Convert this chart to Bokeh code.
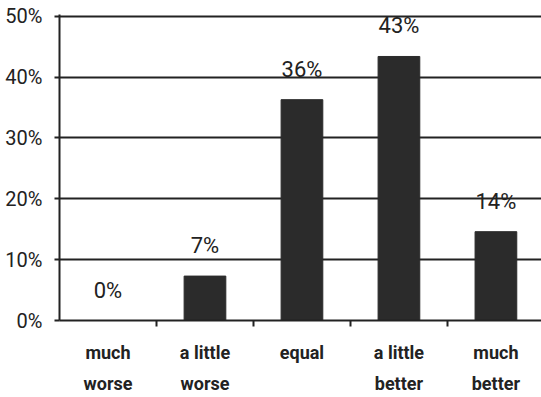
from bokeh.plotting import figure
from bokeh.models import Range1d, FixedTicker, ColumnDataSource
from bokeh.core.properties import value
from bokeh.embed import file_html
from bokeh.resources import INLINE

categories = ["much\nworse", "a little\nworse", "equal", "a little\nbetter", "much\nbetter"]
values = [0.0, 7.3, 36.3, 43.4, 14.6]
value_labels = ["0%", "7%", "36%", "43%", "14%"]
y_ticks = [0, 10, 20, 30, 40, 50]
y_tick_labels = ["0%", "10%", "20%", "30%", "40%", "50%"]

xs = [i + 0.5 for i in range(len(categories))]
src = ColumnDataSource(dict(x=xs, top=values, lab=value_labels))

FONT = "Roboto"

p = figure(width=541, height=397, output_backend="svg", toolbar_location=None,
           x_range=Range1d(0, 4.97), y_range=Range1d(0, 50.3),
           min_border_left=59, min_border_right=0, min_border_top=14, min_border_bottom=70)
p.outline_line_color = None
p.background_fill_color = "white"
p.border_fill_color = "white"

p.vbar(x="x", top="top", width=0.43, bottom=0, source=src,
       fill_color="#2b2b2b", line_color="#2b2b2b")

p.text(x="x", y="top", text="lab", source=src, text_align="center",
       text_baseline="bottom", y_offset=-18, text_font=value(FONT),
       text_font_size="22px", text_color="#222222")

# axes
p.xgrid.grid_line_color = None
p.ygrid.ticker = FixedTicker(ticks=y_ticks)
p.ygrid.grid_line_color = "#222222"
p.ygrid.grid_line_width = 2

p.yaxis.ticker = FixedTicker(ticks=y_ticks)
p.yaxis.major_label_overrides = {t: l for t, l in zip(y_ticks, y_tick_labels)}
p.yaxis.axis_line_width = 2
p.yaxis.axis_line_color = "#222222"
p.yaxis.major_tick_line_width = 2
p.yaxis.major_tick_line_color = "#222222"
p.yaxis.major_tick_out = 5
p.yaxis.major_tick_in = 0
p.yaxis.minor_tick_line_color = None
p.yaxis.major_label_text_font = FONT
p.yaxis.major_label_text_font_size = "20px"
p.yaxis.major_label_text_color = "#222222"
p.yaxis.major_label_standoff = 12

p.xaxis.ticker = FixedTicker(ticks=xs, minor_ticks=[1, 2, 3, 4])
p.xaxis.major_label_overrides = {x: c for x, c in zip(xs, categories)}
p.xaxis.axis_line_width = 2
p.xaxis.axis_line_color = "#222222"
p.xaxis.major_tick_line_color = None
p.xaxis.minor_tick_line_color = "#222222"
p.xaxis.minor_tick_line_width = 2
p.xaxis.minor_tick_out = 6
p.xaxis.minor_tick_in = 0
p.xaxis.major_label_text_font = FONT
p.xaxis.major_label_text_font_style = "bold"
p.xaxis.major_label_text_font_size = "18px"
p.xaxis.major_label_text_color = "#222222"
p.xaxis.major_label_standoff = 15
p.xaxis.major_label_text_line_height = 1.5

open("out.html", "w").write(file_html(p, INLINE))
